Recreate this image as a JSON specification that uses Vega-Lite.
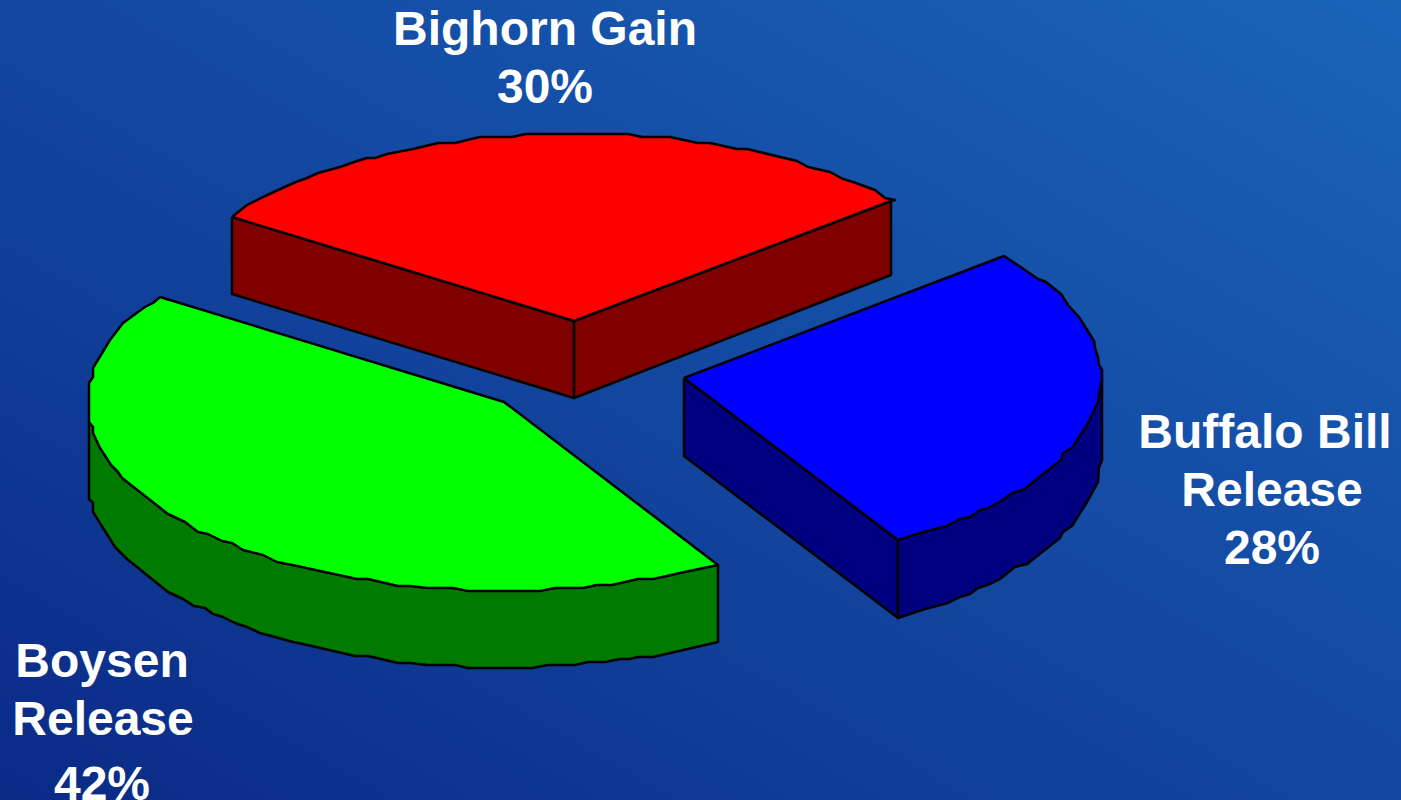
{"$schema":"https://vega.github.io/schema/vega-lite/v6.json","width":1401,"height":800,"padding":0,"autosize":{"type":"none"},"background":"#0f3f9c","view":{"stroke":null},
"datasets":{
"sides":[
{"face":"red left","seq":1,"x":232,"y":217},{"face":"red left","seq":2,"x":574,"y":321},{"face":"red left","seq":3,"x":574,"y":398},{"face":"red left","seq":4,"x":232,"y":294},{"face":"red left","seq":5,"x":232,"y":217},
{"face":"red right","seq":1,"x":574,"y":321},{"face":"red right","seq":2,"x":891,"y":201},{"face":"red right","seq":3,"x":891,"y":275},{"face":"red right","seq":4,"x":574,"y":398},{"face":"red right","seq":5,"x":574,"y":321},
{"face":"blue left","seq":1,"x":684,"y":378},{"face":"blue left","seq":2,"x":898,"y":540},{"face":"blue left","seq":3,"x":898,"y":618},{"face":"blue left","seq":4,"x":684,"y":456},{"face":"blue left","seq":5,"x":684,"y":378},
{"face":"blue rim","seq":1,"x":898,"y":540},{"face":"blue rim","seq":2,"x":1000,"y":480},{"face":"blue rim","seq":3,"x":1102,"y":380},{"face":"blue rim","seq":4,"x":1102,"y":460},{"face":"blue rim","seq":5,"x":1099,"y":468},{"face":"blue rim","seq":6,"x":1098,"y":482},{"face":"blue rim","seq":7,"x":1087,"y":502},{"face":"blue rim","seq":8,"x":1072,"y":526},{"face":"blue rim","seq":9,"x":1063,"y":532},{"face":"blue rim","seq":10,"x":1060,"y":538},{"face":"blue rim","seq":11,"x":1027,"y":564},{"face":"blue rim","seq":12,"x":1015,"y":567},{"face":"blue rim","seq":13,"x":1000,"y":579},{"face":"blue rim","seq":14,"x":990,"y":584},{"face":"blue rim","seq":15,"x":978,"y":588},{"face":"blue rim","seq":16,"x":970,"y":594},{"face":"blue rim","seq":17,"x":960,"y":597},{"face":"blue rim","seq":18,"x":948,"y":603},{"face":"blue rim","seq":19,"x":925,"y":609},{"face":"blue rim","seq":20,"x":898,"y":618},{"face":"blue rim","seq":21,"x":898,"y":540},
{"face":"green rim","seq":1,"x":718,"y":565},{"face":"green rim","seq":2,"x":718,"y":642},{"face":"green rim","seq":3,"x":653,"y":657},{"face":"green rim","seq":4,"x":638,"y":657},{"face":"green rim","seq":5,"x":630,"y":659},{"face":"green rim","seq":6,"x":620,"y":659},{"face":"green rim","seq":7,"x":605,"y":662},{"face":"green rim","seq":8,"x":588,"y":662},{"face":"green rim","seq":9,"x":575,"y":665},{"face":"green rim","seq":10,"x":548,"y":665},{"face":"green rim","seq":11,"x":532,"y":668},{"face":"green rim","seq":12,"x":468,"y":668},{"face":"green rim","seq":13,"x":455,"y":665},{"face":"green rim","seq":14,"x":427,"y":665},{"face":"green rim","seq":15,"x":410,"y":663},{"face":"green rim","seq":16,"x":398,"y":663},{"face":"green rim","seq":17,"x":368,"y":656},{"face":"green rim","seq":18,"x":355,"y":656},{"face":"green rim","seq":19,"x":303,"y":644},{"face":"green rim","seq":20,"x":293,"y":642},{"face":"green rim","seq":21,"x":275,"y":637},{"face":"green rim","seq":22,"x":260,"y":633},{"face":"green rim","seq":23,"x":247,"y":627},{"face":"green rim","seq":24,"x":235,"y":623},{"face":"green rim","seq":25,"x":223,"y":617},{"face":"green rim","seq":26,"x":213,"y":614},{"face":"green rim","seq":27,"x":205,"y":608},{"face":"green rim","seq":28,"x":194,"y":606},{"face":"green rim","seq":29,"x":183,"y":599},{"face":"green rim","seq":30,"x":168,"y":592},{"face":"green rim","seq":31,"x":127,"y":559},{"face":"green rim","seq":32,"x":115,"y":547},{"face":"green rim","seq":33,"x":93,"y":512},{"face":"green rim","seq":34,"x":93,"y":503},{"face":"green rim","seq":35,"x":89,"y":499},{"face":"green rim","seq":36,"x":89,"y":422},{"face":"green rim","seq":37,"x":300,"y":500},{"face":"green rim","seq":38,"x":718,"y":565}
],
"tops":[
{"face":"red top","seq":1,"x":232,"y":217},{"face":"red top","seq":2,"x":247,"y":205},{"face":"red top","seq":3,"x":263,"y":197},{"face":"red top","seq":4,"x":278,"y":190},{"face":"red top","seq":5,"x":296,"y":182},{"face":"red top","seq":6,"x":307,"y":178},{"face":"red top","seq":7,"x":318,"y":173},{"face":"red top","seq":8,"x":340,"y":167},{"face":"red top","seq":9,"x":357,"y":161},{"face":"red top","seq":10,"x":367,"y":158},{"face":"red top","seq":11,"x":375,"y":158},{"face":"red top","seq":12,"x":387,"y":154},{"face":"red top","seq":13,"x":413,"y":149},{"face":"red top","seq":14,"x":438,"y":143},{"face":"red top","seq":15,"x":455,"y":143},{"face":"red top","seq":16,"x":480,"y":137},{"face":"red top","seq":17,"x":512,"y":137},{"face":"red top","seq":18,"x":526,"y":134},{"face":"red top","seq":19,"x":628,"y":134},{"face":"red top","seq":20,"x":642,"y":137},{"face":"red top","seq":21,"x":670,"y":137},{"face":"red top","seq":22,"x":698,"y":143},{"face":"red top","seq":23,"x":710,"y":143},{"face":"red top","seq":24,"x":737,"y":149},{"face":"red top","seq":25,"x":747,"y":149},{"face":"red top","seq":26,"x":797,"y":161},{"face":"red top","seq":27,"x":808,"y":167},{"face":"red top","seq":28,"x":830,"y":172},{"face":"red top","seq":29,"x":843,"y":179},{"face":"red top","seq":30,"x":853,"y":182},{"face":"red top","seq":31,"x":875,"y":190},{"face":"red top","seq":32,"x":885,"y":198},{"face":"red top","seq":33,"x":895,"y":200},{"face":"red top","seq":34,"x":891,"y":201},{"face":"red top","seq":35,"x":574,"y":321},{"face":"red top","seq":36,"x":232,"y":217},
{"face":"blue top","seq":1,"x":684,"y":378},{"face":"blue top","seq":2,"x":1004,"y":256},{"face":"blue top","seq":3,"x":1022,"y":268},{"face":"blue top","seq":4,"x":1038,"y":279},{"face":"blue top","seq":5,"x":1046,"y":282},{"face":"blue top","seq":6,"x":1061,"y":294},{"face":"blue top","seq":7,"x":1068,"y":305},{"face":"blue top","seq":8,"x":1079,"y":317},{"face":"blue top","seq":9,"x":1094,"y":341},{"face":"blue top","seq":10,"x":1095,"y":348},{"face":"blue top","seq":11,"x":1098,"y":357},{"face":"blue top","seq":12,"x":1099,"y":365},{"face":"blue top","seq":13,"x":1102,"y":370},{"face":"blue top","seq":14,"x":1102,"y":380},{"face":"blue top","seq":15,"x":1099,"y":393},{"face":"blue top","seq":16,"x":1098,"y":402},{"face":"blue top","seq":17,"x":1087,"y":425},{"face":"blue top","seq":18,"x":1072,"y":448},{"face":"blue top","seq":19,"x":1063,"y":453},{"face":"blue top","seq":20,"x":1061,"y":460},{"face":"blue top","seq":21,"x":1023,"y":490},{"face":"blue top","seq":22,"x":1012,"y":493},{"face":"blue top","seq":23,"x":1003,"y":500},{"face":"blue top","seq":24,"x":988,"y":508},{"face":"blue top","seq":25,"x":978,"y":511},{"face":"blue top","seq":26,"x":971,"y":517},{"face":"blue top","seq":27,"x":960,"y":519},{"face":"blue top","seq":28,"x":947,"y":526},{"face":"blue top","seq":29,"x":923,"y":532},{"face":"blue top","seq":30,"x":898,"y":540},{"face":"blue top","seq":31,"x":684,"y":378},
{"face":"green top","seq":1,"x":160,"y":297},{"face":"green top","seq":2,"x":504,"y":402},{"face":"green top","seq":3,"x":718,"y":565},{"face":"green top","seq":4,"x":680,"y":573},{"face":"green top","seq":5,"x":667,"y":576},{"face":"green top","seq":6,"x":653,"y":579},{"face":"green top","seq":7,"x":638,"y":579},{"face":"green top","seq":8,"x":612,"y":585},{"face":"green top","seq":9,"x":597,"y":585},{"face":"green top","seq":10,"x":583,"y":588},{"face":"green top","seq":11,"x":555,"y":588},{"face":"green top","seq":12,"x":540,"y":591},{"face":"green top","seq":13,"x":468,"y":591},{"face":"green top","seq":14,"x":453,"y":588},{"face":"green top","seq":15,"x":427,"y":588},{"face":"green top","seq":16,"x":410,"y":586},{"face":"green top","seq":17,"x":398,"y":586},{"face":"green top","seq":18,"x":368,"y":579},{"face":"green top","seq":19,"x":357,"y":579},{"face":"green top","seq":20,"x":297,"y":566},{"face":"green top","seq":21,"x":277,"y":562},{"face":"green top","seq":22,"x":263,"y":555},{"face":"green top","seq":23,"x":243,"y":550},{"face":"green top","seq":24,"x":232,"y":543},{"face":"green top","seq":25,"x":222,"y":541},{"face":"green top","seq":26,"x":208,"y":534},{"face":"green top","seq":27,"x":198,"y":532},{"face":"green top","seq":28,"x":185,"y":522},{"face":"green top","seq":29,"x":168,"y":514},{"face":"green top","seq":30,"x":122,"y":478},{"face":"green top","seq":31,"x":118,"y":472},{"face":"green top","seq":32,"x":111,"y":465},{"face":"green top","seq":33,"x":100,"y":448},{"face":"green top","seq":34,"x":93,"y":433},{"face":"green top","seq":35,"x":93,"y":427},{"face":"green top","seq":36,"x":89,"y":422},{"face":"green top","seq":37,"x":89,"y":383},{"face":"green top","seq":38,"x":93,"y":377},{"face":"green top","seq":39,"x":93,"y":368},{"face":"green top","seq":40,"x":110,"y":340},{"face":"green top","seq":41,"x":123,"y":323},{"face":"green top","seq":42,"x":145,"y":307},{"face":"green top","seq":43,"x":153,"y":303},{"face":"green top","seq":44,"x":160,"y":297}
],
"labels":[
{"text":"Bighorn Gain","x":545,"y":45},{"text":"30%","x":545,"y":103},
{"text":"Buffalo Bill","x":1265,"y":448},{"text":"Release","x":1272,"y":506},{"text":"28%","x":1272,"y":564},
{"text":"Boysen","x":102,"y":677},{"text":"Release","x":103,"y":735},{"text":"42%","x":102,"y":800}
]},
"encoding":{
"x":{"field":"x","type":"quantitative","axis":null,"scale":{"domain":[0,1401],"nice":false,"zero":false}},
"y":{"field":"y","type":"quantitative","axis":null,"scale":{"domain":[800,0],"nice":false,"zero":false}}
},
"layer":[
{"data":{"values":[{"x":0,"x1":1401,"y":800,"y1":0}]},
"mark":{"type":"rect","fill":{"gradient":"linear","x1":0,"y1":1,"x2":1,"y2":0,"stops":[{"offset":0,"color":"#0a2a86"},{"offset":1,"color":"#1b64ba"}]}},
"encoding":{"x2":{"field":"x1"},"y2":{"field":"y1"}}},
{"data":{"name":"sides"},"mark":{"type":"line","stroke":"#000000","strokeWidth":2.5,"strokeJoin":"round","clip":false},
"encoding":{"order":{"field":"seq","type":"quantitative"},"fill":{"field":"face","type":"nominal","legend":null,"scale":{"domain":["red left","red right","blue left","blue rim","green rim"],"range":["#800000","#800000","#000080","#000080","#007a00"]}}}},
{"data":{"name":"tops"},"mark":{"type":"line","stroke":"#000000","strokeWidth":2.5,"strokeJoin":"round","clip":false},
"encoding":{"order":{"field":"seq","type":"quantitative"},"fill":{"field":"face","type":"nominal","legend":null,"scale":{"domain":["red top","blue top","green top"],"range":["#ff0000","#0000ff","#00ff00"]}}}},
{"data":{"name":"labels"},"mark":{"type":"text","font":"Liberation Sans","fontWeight":"bold","fontSize":48,"color":"#ffffff","align":"center","baseline":"alphabetic"},
"encoding":{"text":{"field":"text","type":"nominal"}}}
],
"resolve":{"scale":{"fill":"independent"}}
}
